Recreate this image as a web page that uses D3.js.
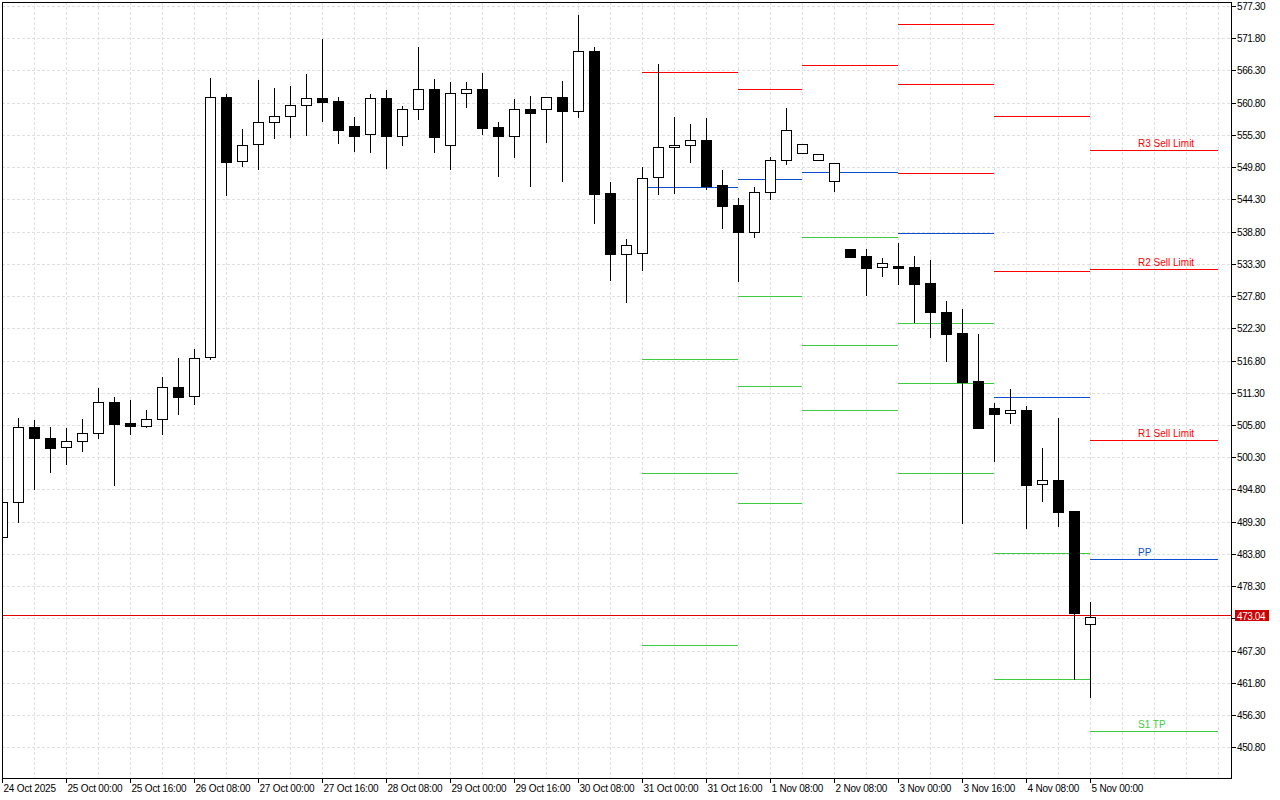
<!DOCTYPE html>
<html><head><meta charset="utf-8">
<script src="https://cdn.jsdelivr.net/npm/d3@7"></script>
<style>
html,body{margin:0;padding:0;background:#fff;}
svg{display:block;}
text{font-family:"Liberation Sans",Arial,sans-serif;}
</style></head>
<body>
<svg id="chart" width="1280" height="800"></svg>
<script>
// ---- DATA (H4 candles, index 0 = 24 Oct 2025 08:00) ----
const open  = [486.7,492.6,505.5,503.6,502.0,503.0,504.4,509.7,506.1,505.6,506.9,512.2,510.7,517.35,561.7,550.8,553.8,557.5,558.5,560.4,561.6,561.1,556.8,555.4,561.6,555.2,559.7,563.1,553.5,562.4,563.1,556.6,555.1,559.8,559.7,561.7,559.3,569.6,545.4,534.9,535.2,548.1,553.2,553.5,554.4,546.7,543.3,538.7,545.5,551.1,552.3,551.0,547.4,535.8,534.6,532.7,532.9,532.8,530.0,525.1,521.5,513.3,508.7,507.8,508.4,495.7,496.4,491.1,471.8];
const high  = [493.2,507.2,506.8,505.6,505.5,507.0,512.3,510.8,510.2,508.5,514.1,517.4,518.9,565.2,562.5,556.5,564.8,563.5,563.8,565.9,571.8,561.9,558.5,562.5,563.1,560.4,570.5,565.0,564.5,564.5,566.0,557.7,561.6,562.1,561.9,564.7,575.9,570.4,547.4,537.7,550.0,567.6,558.5,557.3,558.4,549.5,544.7,546.5,551.7,560.0,553.7,552.0,550.7,536.0,536.0,534.5,537.0,534.8,534.1,527.1,525.8,521.5,509.7,512.1,509.2,502.0,507.2,491.3,475.8];
const low   = [486.5,489.3,494.9,497.8,499.2,501.4,503.5,495.6,504.3,505.5,504.3,507.6,509.3,517.0,545.1,550.0,549.4,554.7,555.0,555.3,557.7,554.0,552.6,552.4,549.7,553.5,558.1,552.4,549.5,560.0,555.5,548.3,551.6,546.6,554.1,547.5,558.4,540.3,530.6,526.8,532.3,545.3,545.4,550.7,546.1,539.5,530.4,537.9,544.4,550.4,552.3,551.0,545.8,534.4,528.0,531.3,529.9,523.3,520.9,516.8,489.0,505.3,499.7,506.2,488.3,492.9,488.6,462.5,459.4];
const close = [492.6,505.5,503.5,501.9,503.0,504.4,509.7,506.0,505.6,506.9,512.2,510.6,517.2,561.7,550.6,553.5,557.5,558.5,560.4,561.6,561.0,556.2,555.2,561.6,555.2,559.7,563.1,555.0,562.4,563.1,556.5,555.1,559.8,559.1,561.7,559.3,569.6,545.3,534.9,536.6,547.9,553.2,553.5,554.4,546.6,543.1,538.8,545.5,551.1,556.1,553.7,552.0,550.5,534.5,532.6,533.4,532.6,529.9,525.0,521.4,513.2,505.3,507.7,508.4,495.6,496.4,491.0,473.8,473.04];
const lastPrice = 473.04;

// time axis ticks (candle index) and labels
const timeTickIndex = [0,4,8,12,16,20,24,28,32,36,40,44,48,52,56,60,64,68];
const timeTickLabels = ["24 Oct 2025","25 Oct 00:00","25 Oct 16:00","26 Oct 08:00","27 Oct 00:00","27 Oct 16:00","28 Oct 08:00","29 Oct 00:00","29 Oct 16:00","30 Oct 08:00","31 Oct 00:00","31 Oct 16:00","1 Nov 08:00","2 Nov 08:00","3 Nov 00:00","3 Nov 16:00","4 Nov 08:00","5 Nov 00:00"];

// price axis ticks
const priceTicks = [577.30,571.80,566.30,560.80,555.30,549.80,544.30,538.80,533.30,527.80,522.30,516.80,511.30,505.80,500.30,494.80,489.30,483.80,478.30,472.80,467.30,461.80,456.30,450.80];
const priceTickLabels = ["577.30","571.80","566.30","560.80","555.30","549.80","544.30","538.80","533.30","527.80","522.30","516.80","511.30","505.80","500.30","494.80","489.30","483.80","478.30","","467.30","461.80","456.30","450.80"];

// daily pivot segments (start / end candle index)
const pivotStart = [40,46,50,56,62,68];
const pivotEnd   = [46,50,56,62,68,76];
const resistLevels = [[566.04],[563.09],[567.18],[574.18,563.94,548.75],[558.48,532.03],[552.68,532.37,503.19]];
const pivotLevels  = [546.36,547.73,548.92,538.51,510.52,482.88];
const supportLevels= [[517.01,497.56,468.2],[527.81,512.4,492.44],[537.83,519.4,508.31],[523.15,512.91,497.56],[483.9,462.4],[453.58]];

// labels on the current day's levels
const levelLabelText  = ["R3 Sell Limit","R2 Sell Limit","R1 Sell Limit","PP","S1 TP"];
const levelLabelValue = [552.68,532.37,503.19,482.88,453.58];
const levelLabelKind  = ["r","r","r","p","s"];

// ---- LAYOUT ----
const W = 1280, H = 800;
const plot = {left:2, top:2, right:1231, bottom:778};
const RED = "#ff0000", BLUE = "#0a4fd0", GREEN = "#3ccc3c";
const kindColor = {r:RED, p:BLUE, s:GREEN};

const x = d3.scaleLinear().domain([0,1]).range([2,18]);
const y = d3.scaleLinear().domain([450.8,577.3]).range([747.3,6]);
const cx = i => Math.round(x(i)) + 0.5;
const cy = v => Math.round(y(v)) + 0.5;
const lastRow = Math.floor(y(lastPrice)) - 1;

const svg = d3.select("#chart");
svg.append("rect").attr("width",W).attr("height",H).attr("fill","#fff");

const defs = svg.append("defs");
defs.append("clipPath").attr("id","clip").append("rect")
  .attr("x",plot.left+1).attr("y",plot.top+1)
  .attr("width",plot.right-plot.left-1).attr("height",plot.bottom-plot.top-1);

const g = svg.append("g").attr("clip-path","url(#clip)").attr("shape-rendering","crispEdges");

// grid
g.append("g").selectAll("line").data(priceTicks).join("line")
  .attr("x1",plot.left).attr("x2",plot.right)
  .attr("y1",d=>cy(d)).attr("y2",d=>cy(d))
  .attr("stroke","#e0e0e0").attr("stroke-dasharray","3,2");
const vGrid = d3.range(2,77,2);
g.append("g").selectAll("line").data(vGrid).join("line")
  .attr("x1",d=>cx(d)).attr("x2",d=>cx(d))
  .attr("y1",plot.top).attr("y2",plot.bottom)
  .attr("stroke","#e0e0e0").attr("stroke-dasharray","3,2");

// pivot segments
const segs = [];
pivotStart.forEach((s,i)=>{
  resistLevels[i].forEach(v=>segs.push({s,e:pivotEnd[i],v,c:RED}));
  segs.push({s,e:pivotEnd[i],v:pivotLevels[i],c:BLUE});
  supportLevels[i].forEach(v=>segs.push({s,e:pivotEnd[i],v,c:GREEN}));
});
g.append("g").selectAll("line").data(segs).join("line")
  .attr("x1",d=>cx(d.s)-0.5).attr("x2",d=>cx(d.e)-0.5)
  .attr("y1",d=>cy(d.v)).attr("y2",d=>cy(d.v))
  .attr("stroke",d=>d.c).attr("stroke-width",1);

// current price line (1px filled band)
g.append("rect").attr("x",plot.left).attr("width",plot.right-plot.left)
  .attr("y",lastRow).attr("height",1.4)
  .attr("fill","#e00000");

// candles
const idx = d3.range(open.length);
g.append("g").selectAll("line").data(idx).join("line")
  .attr("x1",i=>cx(i)).attr("x2",i=>cx(i))
  .attr("y1",i=>cy(high[i])).attr("y2",i=>cy(low[i]))
  .attr("stroke","#000");
g.append("g").selectAll("rect").data(idx).join("rect")
  .attr("x",i=>cx(i)-5).attr("width",10)
  .attr("y",i=>cy(Math.max(open[i],close[i])))
  .attr("height",i=>Math.max(1,cy(Math.min(open[i],close[i]))-cy(Math.max(open[i],close[i]))))
  .attr("fill",i=>close[i]>=open[i]?"#fff":"#000")
  .attr("stroke","#000");

// level labels
svg.append("g").selectAll("text").data(levelLabelText).join("text")
  .attr("x",1138).attr("y",(d,i)=>cy(levelLabelValue[i])-4)
  .attr("font-size",10).attr("fill",(d,i)=>kindColor[levelLabelKind[i]])
  .text(d=>d);

// frame
svg.append("rect").attr("x",plot.left+0.5).attr("y",plot.top+0.5)
  .attr("width",plot.right-plot.left).attr("height",plot.bottom-plot.top)
  .attr("fill","none").attr("stroke","#000").attr("shape-rendering","crispEdges");

// price axis
const ya = svg.append("g");
ya.selectAll("line").data(priceTicks).join("line")
  .attr("x1",plot.right+1).attr("x2",plot.right+5)
  .attr("y1",d=>cy(d)).attr("y2",d=>cy(d))
  .attr("stroke","#000").attr("shape-rendering","crispEdges");
ya.selectAll("text").data(priceTicks).join("text")
  .attr("x",plot.right+6).attr("y",d=>cy(d)+3.5)
  .attr("font-size",10).attr("letter-spacing","-0.4px").attr("fill","#000")
  .text((d,i)=>priceTickLabels[i]);

// last price tag
svg.append("rect").attr("x",plot.right+4).attr("y",lastRow-5)
  .attr("width",34).attr("height",11).attr("fill","#cc0000");
svg.append("text").attr("x",plot.right+6).attr("y",lastRow+4.5)
  .attr("font-size",10).attr("letter-spacing","-0.4px").attr("fill","#fff")
  .text(lastPrice.toFixed(2));

// time axis
const xa = svg.append("g");
xa.selectAll("line").data(timeTickIndex).join("line")
  .attr("x1",i=>cx(i)).attr("x2",i=>cx(i))
  .attr("y1",plot.bottom+1).attr("y2",plot.bottom+5)
  .attr("stroke","#000").attr("shape-rendering","crispEdges");
xa.selectAll("text").data(timeTickIndex).join("text")
  .attr("x",i=>cx(i)+1).attr("y",792)
  .attr("font-size",10).attr("letter-spacing","-0.2px").attr("fill","#000")
  .text((d,i)=>timeTickLabels[i]);
</script>
</body></html>
